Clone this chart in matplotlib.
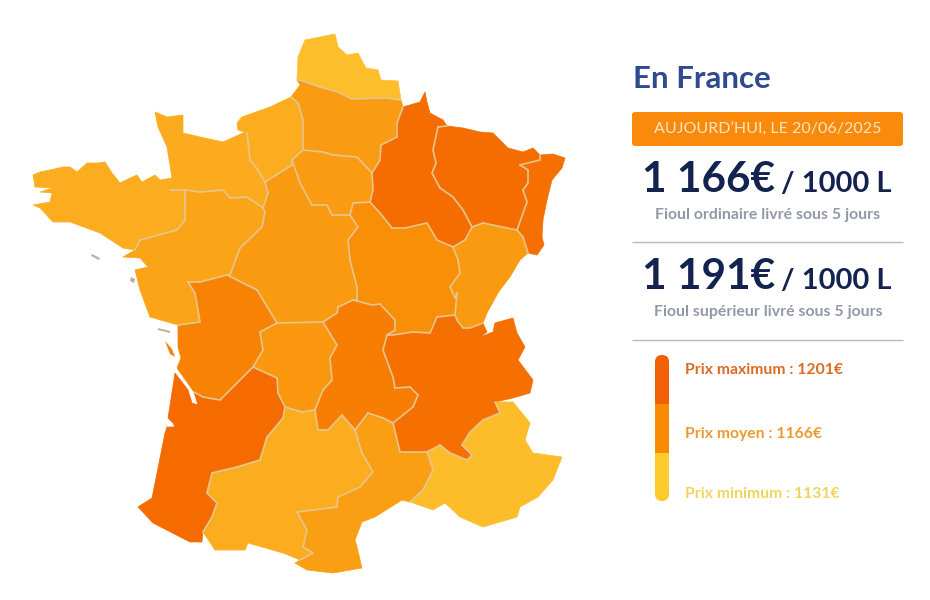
import matplotlib
matplotlib.use("Agg")
import matplotlib.pyplot as plt
from collections import Counter
from matplotlib.colors import LinearSegmentedColormap, Normalize
from matplotlib.patches import Polygon, FancyBboxPatch, Rectangle

plt.rcParams['font.family'] = ['Lato', 'Open Sans', 'DejaVu Sans']

# Estimated regional prices (euros / 1000 L), read from the colours
prices = {
    "Nord": 1131, "Picardie": 1154, "IleDeFrance": 1155, "Champagne": 1199, "Lorraine": 1199,
    "Alsace": 1196, "Bourgogne": 1164, "FrancheComte": 1156, "HauteNormandie": 1143,
    "BasseNormandie": 1144, "Bretagne": 1143, "PaysDeLoire": 1149, "Centre": 1156,
    "Poitou": 1176, "Limousin": 1158, "Auvergne": 1181, "RhoneAlpes": 1197, "Aquitaine": 1201,
    "MidiPyrenees": 1143, "Languedoc": 1153, "PACA": 1132,
}
# Region outlines, (x, y) in image pixels
outlines = {
    "Nord": [(297,80),(298,57),(305,40),(335,34),(338,47),(347,55),(358,53),(366,68),(378,70),(381,80),(398,81),(401,100),(385,98),(352,99),(338,92),(320,87),(300,80)],
    "Picardie": [(297,80),(300,85),(291,97),(298,103),(303,120),(303,150),(323,152),(333,155),(357,157),(372,173),(380,160),(381,145),(397,137),(397,123),(403,107),(401,100),(385,98),(352,99),(338,92),(320,87),(300,80)],
    "IleDeFrance": [(303,150),(292,160),(300,183),(312,205),(327,205),(332,215),(350,215),(353,203),(370,202),(373,190),(372,173),(357,157),(333,155),(323,152)],
    "Champagne": [(403,107),(420,102),(425,92),(427,102),(430,113),(443,120),(447,126),(438,127),(433,150),(436,163),(432,173),(440,188),(453,197),(463,210),(472,227),(465,240),(453,247),(437,240),(427,223),(405,228),(392,228),(380,213),(370,202),(373,190),(372,173),(380,160),(381,145),(397,137),(397,123)],
    "Lorraine": [(438,127),(447,126),(463,128),(480,132),(493,133),(508,148),(523,152),(533,148),(540,155),(540,160),(520,165),(528,170),(528,183),(523,190),(527,202),(517,230),(507,228),(483,223),(472,227),(463,210),(453,197),(440,188),(432,173),(436,163),(433,150)],
    "Alsace": [(540,155),(553,154),(565,158),(562,168),(552,180),(547,200),(543,220),(542,237),(544,245),(537,255),(528,253),(523,237),(517,230),(527,202),(523,190),(528,183),(528,170),(520,165),(540,160)],
    "Bourgogne": [(353,203),(370,202),(380,213),(392,228),(405,228),(427,223),(437,240),(453,247),(458,260),(460,273),(450,287),(455,298),(457,293),(455,315),(437,317),(430,333),(413,332),(393,335),(387,335),(395,330),(395,320),(380,304),(372,305),(353,300),(357,300),(357,287),(350,260),(348,240),(358,227),(350,215)],
    "FrancheComte": [(453,247),(465,240),(472,227),(483,223),(507,228),(517,230),(523,237),(528,253),(520,260),(510,277),(500,290),(498,293),(487,313),(483,323),(470,328),(463,328),(457,320),(455,315),(457,293),(455,298),(450,287),(460,273),(458,260)],
    "RhoneAlpes": [(455,315),(457,320),(463,328),(470,328),(483,323),(487,332),(480,337),(493,332),(495,323),(513,318),(517,333),(525,347),(518,360),(533,380),(530,393),(513,398),(495,402),(500,413),(483,420),(470,432),(462,445),(472,455),(467,460),(450,453),(440,445),(427,452),(400,452),(393,423),(413,407),(418,395),(410,387),(395,388),(393,377),(383,350),(387,335),(393,335),(413,332),(430,333),(437,317)],
    "Auvergne": [(323,322),(337,313),(338,307),(353,300),(372,305),(380,304),(395,320),(395,330),(387,335),(383,350),(393,377),(395,388),(410,387),(418,395),(413,407),(393,423),(383,418),(368,413),(355,430),(342,415),(328,430),(318,430),(315,410),(323,390),(332,380),(330,358),(337,345)],
    "Limousin": [(260,332),(277,323),(323,322),(337,345),(330,358),(332,380),(323,390),(315,410),(302,412),(285,407),(278,393),(277,378),(253,367),(263,350)],
    "Poitou": [(188,282),(195,293),(200,322),(178,325),(178,347),(181,358),(177,368),(194,392),(203,397),(220,400),(235,385),(253,367),(263,350),(260,332),(277,323),(257,290),(247,285),(227,275),(200,282)],
    "Aquitaine": [(175,373),(188,390),(192,403),(198,405),(194,392),(203,397),(220,400),(235,385),(253,367),(277,378),(278,393),(285,407),(283,418),(267,437),(260,460),(237,467),(212,473),(207,493),(217,503),(212,517),(203,532),(202,542),(190,542),(153,523),(138,507),(152,498),(165,433),(167,427),(175,427),(173,423),(168,418)],
    "MidiPyrenees": [(285,407),(302,412),(315,410),(318,430),(328,430),(342,415),(355,430),(362,453),(373,472),(360,487),(338,497),(337,507),(297,512),(307,530),(303,547),(313,553),(300,560),(283,553),(248,543),(245,550),(215,550),(203,532),(212,517),(217,503),(207,493),(212,473),(237,467),(260,460),(267,437),(283,418)],
    "Languedoc": [(355,430),(368,413),(383,418),(393,423),(400,452),(427,452),(433,470),(423,490),(410,502),(402,500),(375,517),(362,522),(355,540),(357,547),(362,568),(333,573),(307,570),(295,563),(300,560),(313,553),(303,547),(307,530),(297,512),(337,507),(338,497),(360,487),(373,472),(362,453)],
    "PACA": [(427,452),(440,445),(450,453),(467,460),(472,455),(462,445),(470,432),(483,420),(500,413),(495,402),(513,402),(530,423),(525,440),(533,453),(562,457),(553,480),(538,497),(520,507),(517,517),(483,527),(460,517),(445,503),(433,510),(410,502),(423,490),(433,470)],
    "Centre": [(292,165),(265,182),(268,193),(263,208),(265,212),(262,227),(240,248),(230,275),(227,275),(247,285),(257,290),(277,323),(323,322),(337,313),(338,307),(353,300),(357,300),(357,287),(350,260),(348,240),(358,227),(350,215),(332,215),(327,205),(312,205),(300,183),(292,160)],
    "HauteNormandie": [(237,123),(242,117),(270,107),(291,97),(298,103),(303,120),(303,150),(292,160),(292,165),(265,182),(258,170),(250,160),(247,133),(238,130)],
    "BasseNormandie": [(155,112),(167,117),(183,115),(183,133),(200,137),(223,142),(243,133),(247,133),(250,160),(258,170),(265,182),(268,193),(263,208),(247,197),(230,198),(223,190),(200,192),(185,190),(170,190),(167,180),(172,178),(167,147),(158,127)],
    "Bretagne": [(33,175),(40,172),(50,170),(63,167),(70,167),(77,172),(87,163),(98,163),(105,162),(112,173),(120,183),(130,178),(137,175),(142,182),(155,175),(160,180),(172,178),(170,190),(185,190),(185,220),(177,230),(140,240),(135,250),(123,248),(100,233),(70,222),(53,222),(40,208),(33,205),(50,202),(52,193),(40,192),(53,188),(35,187)],
    "PaysDeLoire": [(185,190),(200,192),(223,190),(230,198),(247,197),(263,208),(265,212),(262,227),(240,248),(230,275),(227,275),(200,282),(188,282),(195,293),(200,322),(178,325),(150,317),(140,290),(135,270),(148,267),(140,258),(123,257),(135,250),(140,240),(177,230),(185,220)],
}
islands = [
    ([(92,254),(100,258),(99,260),(91,256)], "#B5B0A0"),
    ([(131,277),(135,279),(134,283),(130,281)], "#B5B0A0"),
    ([(158,328),(170,331),(170,333),(158,330)], "#B5B0A0"),
    ([(165,341),(172,349),(175,357),(170,354)], "#F98208"),
]

title = "En France"
banner = "AUJOURD’HUI, LE 20/06/2025"
offers = [("1 166€", "Fioul ordinaire livré sous 5 jours"),
          ("1 191€", "Fioul supérieur livré sous 5 jours")]
unit = "/ 1000 L"
legend_labels = ["Prix maximum : 1201€", "Prix moyen : 1166€", "Prix minimum : 1131€"]
legend_bar_colors = ["#F25F05", "#FA8A00", "#FDCB2E"]
legend_text_colors = ["#DF6A22", "#EC9A30", "#F1D45E"]
legend_heights = [49, 49, 48]

cmap = LinearSegmentedColormap.from_list("prix", ["#FDBE2C", "#F98B05", "#F56B00"])
norm = Normalize(1131, 1201)

fig = plt.figure(figsize=(9.3, 6), dpi=100)
ax = fig.add_axes([0, 0, 1, 1])
ax.set_xlim(0, 930); ax.set_ylim(600, 0); ax.axis("off")

edge_counts = Counter()
for name, pts in outlines.items():
    col = cmap(norm(prices[name]))
    ax.add_patch(Polygon(pts, closed=True, facecolor=col, edgecolor=col, lw=0.5, joinstyle="round"))
    for a, b in zip(pts, pts[1:] + pts[:1]):
        edge_counts[frozenset((a, b))] += 1
for edge, n in edge_counts.items():
    if n >= 2 and len(edge) == 2:
        (x0, y0), (x1, y1) = tuple(edge)
        ax.plot([x0, x1], [y0, y1], color="#E6C68E", lw=1.2, solid_capstyle="round")
for pts, col in islands:
    ax.add_patch(Polygon(pts, closed=True, facecolor=col, edgecolor="none"))

NAVY = "#14224F"; GREY = "#9198A8"
ax.text(633, 79, title, color="#2F4A8F", fontsize=22.5, fontweight="bold", va="center", ha="left")

ax.add_patch(FancyBboxPatch((632, 112), 271, 34, boxstyle="round,pad=0,rounding_size=3",
                            fc="#F98A0C", ec="none"))
ax.text(767.5, 130, banner, color="#FBE6C4", fontsize=11.5, va="center", ha="center")

for (price, sub), base, suby in zip(offers, [192, 289], [215, 312]):
    ax.text(642, base, price, color=NAVY, fontsize=30.5, fontweight="bold", va="baseline", ha="left")
    ax.text(781, base, unit, color=NAVY, fontsize=21, fontweight="bold", va="baseline", ha="left")
    ax.text(768, suby, sub, color=GREY, fontsize=11.4, fontweight="bold", va="center", ha="center")
for y in [242, 340]:
    ax.plot([632, 903], [y, y], color="#B8B8B8", lw=1.0, solid_capstyle="butt")

clip = FancyBboxPatch((655, 355), 14, 146, boxstyle="round,pad=0,rounding_size=7",
                      fc="none", ec="none", transform=ax.transData)
ax.add_patch(clip)
top = 355
for h, c in zip(legend_heights, legend_bar_colors):
    r = Rectangle((655, top), 14, h, fc=c, ec="none")
    ax.add_patch(r); r.set_clip_path(clip)
    top += h
for label, col, y in zip(legend_labels, legend_text_colors, [370, 434, 494]):
    ax.text(685, y, label, color=col, fontsize=11.3, fontweight="bold", va="center", ha="left")

fig.savefig("out.png", dpi=100)
